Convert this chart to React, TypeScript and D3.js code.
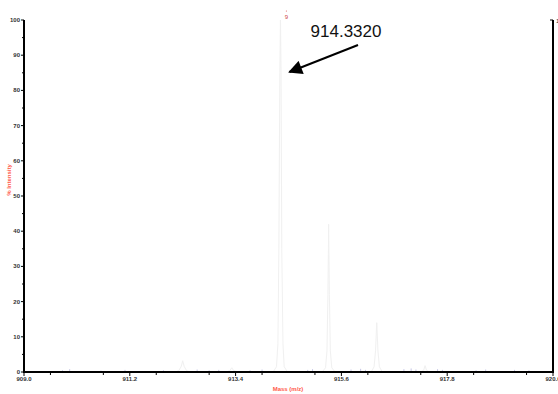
import React from "react";
import * as d3 from "d3";

// Profile spectrum: m/z and % intensity points
const profileMass = [
  909.0, 912.15, 912.22, 912.27, 912.30, 912.33, 912.38, 912.45,
  913.2, 913.28, 913.32, 913.36, 913.44,
  914.18, 914.25, 914.28, 914.30, 914.32, 914.333, 914.345, 914.36, 914.385, 914.41, 914.48,
  915.20, 915.27, 915.30, 915.32, 915.335, 915.35, 915.37, 915.40, 915.47,
  916.22, 916.28, 916.31, 916.335, 916.36, 916.39, 916.45,
  917.25, 917.31, 917.34, 917.37, 917.43,
  920.0,
];
const profileIntensity = [
  0, 0, 0.4, 1.6, 3.2, 1.6, 0.4, 0,
  0, 0.4, 1.2, 0.4, 0,
  0, 1.5, 8, 35, 85, 100, 85, 35, 8, 1.5, 0,
  0, 1.2, 6, 22, 42, 22, 6, 1.2, 0,
  0, 1.5, 6, 14, 6, 1.5, 0,
  0, 0.5, 1.8, 0.5, 0,
  0,
];

// Low-level baseline noise (m/z, % intensity)
const noiseMass = [909.8, 909.95, 910.6, 911.1, 911.9, 912.6, 912.85, 913.05, 913.7, 913.95, 914.9, 915.0, 915.8, 916.0, 916.1, 916.9, 917.05, 917.15, 917.6, 917.7, 918.4, 918.6, 919.2, 919.5];
const noiseIntensity = [0.5, 0.8, 0.4, 0.6, 0.5, 0.7, 0.5, 0.6, 0.5, 0.7, 0.6, 0.8, 0.7, 0.9, 0.6, 0.8, 1.0, 0.7, 0.8, 0.6, 0.5, 0.7, 0.6, 0.5];

const xTickLabels = ["909.0", "911.2", "913.4", "915.6", "917.8", "920.0"];
const yTickValues = [0, 10, 20, 30, 40, 50, 60, 70, 80, 90, 100];

const peakLabel = "914.3320";
const peakMass = 914.332;

export default function App() {
  const width = 558;
  const height = 394;
  const left = 24;
  const right = 553;
  const top = 20;
  const bottom = 372;

  const x = d3.scaleLinear().domain([909, 920]).range([left, right]);
  const y = d3.scaleLinear().domain([0, 100]).range([bottom, top]);

  const line = d3
    .line<number>()
    .x((_, i) => x(profileMass[i]))
    .y((d) => y(d));

  const majorX = xTickLabels.map((t) => +t);
  const minorX = d3.range(0, 10).map((i) => 909 + 0.55 + i * 1.1);
  const minorY = d3.range(0, 10).map((i) => 5 + i * 10);

  const tickFont = {
    fontFamily: "Liberation Sans, Arial, sans-serif",
    fontSize: 6,
    fontWeight: 700 as const,
    fill: "#333",
  };

  const arrowTip = { x: x(peakMass) + 9, y: 72 };
  const arrowTail = { x: 358, y: 45 };

  return (
    <svg
      width={width}
      height={height}
      style={{ position: "absolute", left: 0, top: 0, background: "#fff" }}
    >
      <defs>
        <marker
          id="arrowhead"
          viewBox="0 0 10 10"
          refX="9"
          refY="5"
          markerWidth="8"
          markerHeight="7"
          orient="auto"
          markerUnits="strokeWidth"
        >
          <path d="M0,0 L10,5 L0,10 z" fill="#000" />
        </marker>
      </defs>

      {/* baseline noise */}
      {noiseMass.map((m, i) => (
        <line
          key={"n" + i}
          x1={x(m)}
          x2={x(m)}
          y1={y(0)}
          y2={y(noiseIntensity[i])}
          stroke="#c4c4e4"
          strokeWidth={1}
        />
      ))}

      {/* profile trace */}
      <path d={line(profileIntensity) || ""} fill="none" stroke="#f0f0f0" strokeWidth={1} />

      {/* axes frame */}
      <line x1={left} x2={left} y1={top} y2={bottom + 1} stroke="#000" strokeWidth={2} />
      <line x1={right} x2={right} y1={top} y2={bottom + 1} stroke="#000" strokeWidth={2} />
      <line x1={left - 1} x2={right + 1} y1={bottom} y2={bottom} stroke="#000" strokeWidth={2} />
      <line x1={right - 3} x2={right} y1={top} y2={top} stroke="#000" strokeWidth={1} />
      <text x={right + 3} y={top + 3} {...tickFont} fontWeight={400}>
        1
      </text>

      {/* y ticks */}
      {yTickValues.map((v) => (
        <g key={"y" + v}>
          <line x1={left - 3} x2={left} y1={y(v)} y2={y(v)} stroke="#000" strokeWidth={1} />
          <text x={left - 4} y={y(v) + 2} textAnchor="end" {...tickFont}>
            {v}
          </text>
        </g>
      ))}
      {minorY.map((v) => (
        <line key={"ym" + v} x1={left - 2} x2={left} y1={y(v)} y2={y(v)} stroke="#000" strokeWidth={1} />
      ))}

      {/* x ticks */}
      {majorX.map((v, i) => (
        <g key={"x" + v}>
          <line x1={x(v)} x2={x(v)} y1={bottom} y2={bottom + 4} stroke="#000" strokeWidth={1} />
          <text x={x(v)} y={bottom + 9} textAnchor="middle" {...tickFont}>
            {xTickLabels[i]}
          </text>
        </g>
      ))}
      {minorX.map((v) => (
        <line key={"xm" + v} x1={x(v)} x2={x(v)} y1={bottom} y2={bottom + 3} stroke="#000" strokeWidth={1} />
      ))}

      {/* axis titles */}
      <text
        x={288}
        y={391}
        textAnchor="middle"
        fontFamily="Liberation Sans, Arial, sans-serif"
        fontSize={6}
        fontWeight={700}
        fill="#ff5a4a"
      >
        Mass (m/z)
      </text>
      <text
        transform="translate(11,180) rotate(-90)"
        textAnchor="middle"
        fontFamily="Liberation Sans, Arial, sans-serif"
        fontSize={6}
        fontWeight={700}
        fill="#ff5a4a"
      >
        % Intensity
      </text>

      {/* peak marker */}
      <circle cx={x(peakMass) + 6} cy={11} r={0.6} fill="#d66" />
      <text
        x={x(peakMass) + 6}
        y={19}
        textAnchor="middle"
        fontFamily="Liberation Sans, Arial, sans-serif"
        fontSize={6}
        fill="#c44"
      >
        9
      </text>

      {/* annotation */}
      <text
        x={346}
        y={37}
        textAnchor="middle"
        fontFamily="Liberation Sans, Arial, sans-serif"
        fontSize={17}
        fill="#111"
      >
        {peakLabel}
      </text>
      <line
        x1={arrowTail.x}
        y1={arrowTail.y}
        x2={arrowTip.x}
        y2={arrowTip.y}
        stroke="#000"
        strokeWidth={2}
        markerEnd="url(#arrowhead)"
      />
    </svg>
  );
}
